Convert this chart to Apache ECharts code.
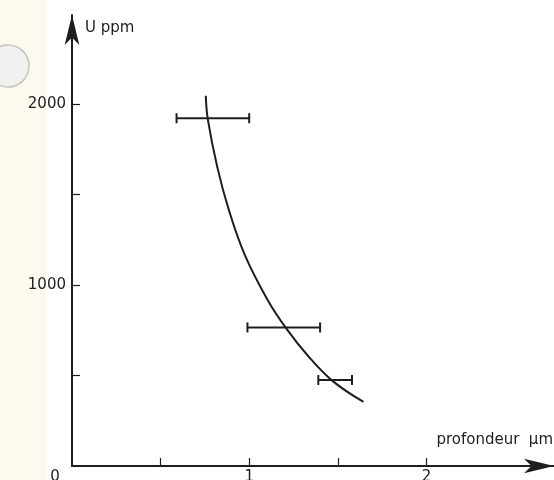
<!DOCTYPE html>
<html>
<head>
  <meta charset="utf-8">
  <title>U ppm / profondeur</title>
  <script src="https://cdn.jsdelivr.net/npm/echarts@6/dist/echarts.min.js"></script>
</head>
<style>
  html, body { margin: 0; padding: 0; background: #fff; }
  #chart { width: 554px; height: 480px; }
</style>
<body>
  <div id="chart"></div>
  <script>
    // courbe tracée à la main (profondeur en µm, teneur en ppm)
    const curveDepth = [0.755, 0.766, 0.82, 0.885, 0.975, 1.104, 1.211, 1.33, 1.47, 1.645];
    const curveU     = [2044, 1917, 1650, 1414, 1166, 917, 757, 610, 470, 354];

    // mesures avec barres d'erreur horizontales
    const barU     = [1920, 765, 475];
    const barLow   = [0.59, 0.99, 1.39];
    const barHigh  = [1.0, 1.40, 1.58];

    const xTicks = [0.5, 1, 1.5, 2];
    const xTickLabels = ['0', '1', '2'];
    const yTicks = [500, 1000, 1500, 2000];
    const yTickLabels = ['1000', '2000'];

    const ink = '#1e1e1e';
    const font = 'DejaVu Sans';

    const chart = echarts.init(document.getElementById('chart'));
    chart.setOption({
      backgroundColor: '#fff',
      animation: false,
      graphic: [
        { type: 'rect', z: -10, shape: { x: 0, y: 0, width: 46, height: 480 }, style: { fill: '#fcfaee' } },
        { type: 'circle', z: -5, shape: { cx: 8, cy: 66, r: 21 },
          style: { fill: '#f1f1ef', stroke: '#c4c4c0', lineWidth: 1.5 } }
      ],
      grid: { left: 72, right: 0, top: 15, bottom: 14, outerBoundsMode: 'none' },
      xAxis: {
        type: 'value',
        min: 0,
        max: 2.72,
        interval: 0.5,
        name: 'profondeur  µm',
        nameLocation: 'end',
        nameGap: -1,
        nameTextStyle: { fontFamily: font, fontSize: 15, color: ink, align: 'right', verticalAlign: 'bottom', padding: [0, 0, 18, 0] },
        axisLine: { show: true, lineStyle: { color: ink, width: 2 }, symbol: ['none', 'arrow'], symbolSize: [11, 30] },
        axisTick: { show: true, inside: true, length: 8, customValues: xTicks, lineStyle: { color: ink, width: 1.2 } },
        splitLine: { show: false },
        axisLabel: {
          margin: 4,
          fontFamily: font, fontSize: 15, color: ink,
          customValues: xTickLabels.map(Number),
          formatter: v => v === 0 ? '{z|' + xTickLabels[0] + '}' : String(v),
          rich: { z: { fontFamily: font, fontSize: 15, color: ink, padding: [0, 34, 0, 0] } }
        }
      },
      yAxis: {
        type: 'value',
        min: 0,
        max: 2490,
        interval: 500,
        name: 'U ppm',
        nameLocation: 'end',
        nameGap: -13,
        nameTextStyle: { fontFamily: font, fontSize: 15, color: ink, align: 'left', verticalAlign: 'middle', padding: [0, 0, 0, 13] },
        axisLine: { show: true, lineStyle: { color: ink, width: 2 }, symbol: ['none', 'arrow'], symbolSize: [11, 30] },
        axisTick: { show: true, inside: true, length: 8, customValues: yTicks, lineStyle: { color: ink, width: 1.2 } },
        splitLine: { show: false },
        axisLabel: {
          margin: 6,
          fontFamily: font, fontSize: 15, color: ink,
          customValues: yTickLabels.map(Number),
          formatter: v => String(v)
        }
      },
      series: [
        {
          type: 'line',
          smooth: 0.4,
          showSymbol: false,
          data: curveDepth.map((d, i) => [d, curveU[i]]),
          lineStyle: { color: ink, width: 2 }
        },
        {
          type: 'custom',
          data: barU.map((u, i) => [barLow[i], barHigh[i], u]),
          renderItem: (params, api) => {
            const a = api.coord([api.value(0), api.value(2)]);
            const b = api.coord([api.value(1), api.value(2)]);
            const cap = 5;
            const st = { stroke: ink, lineWidth: 2 };
            return {
              type: 'group',
              children: [
                { type: 'line', shape: { x1: a[0], y1: a[1], x2: b[0], y2: b[1] }, style: st },
                { type: 'line', shape: { x1: a[0], y1: a[1] - cap, x2: a[0], y2: a[1] + cap }, style: st },
                { type: 'line', shape: { x1: b[0], y1: b[1] - cap, x2: b[0], y2: b[1] + cap }, style: st }
              ]
            };
          }
        }
      ]
    });
  </script>
</body>
</html>
